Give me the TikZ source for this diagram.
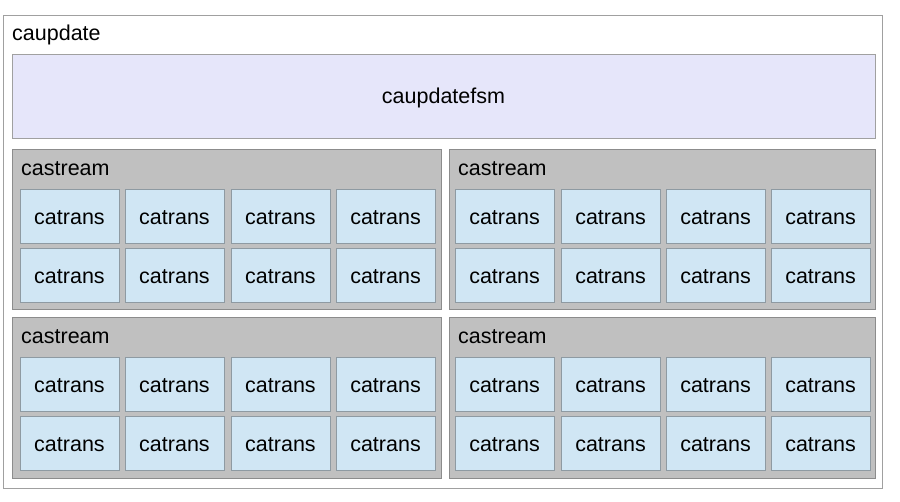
\documentclass[tikz,border=0pt]{standalone}
\usepackage{fontspec}
\setmainfont{Liberation Sans}
\definecolor{framegray}{HTML}{A0A0A0}
\definecolor{fsmfill}{HTML}{E6E6FA}
\definecolor{streamfill}{HTML}{C0C0C0}
\definecolor{streamline}{HTML}{8C8C8C}
\definecolor{transfill}{HTML}{D0E6F4}
\definecolor{transline}{HTML}{8E9AA2}
\begin{document}
\begin{tikzpicture}[x=1pt,y=-1pt,
  box/.style={anchor=north west, inner sep=0pt, outer sep=0pt, line width=1pt},
  topbox/.style={box, draw=framegray, fill=white},
  fsmbox/.style={box, draw=framegray, fill=fsmfill},
  streambox/.style={box, draw=streamline, fill=streamfill},
  transbox/.style={box, draw=transline, fill=transfill, minimum width=99pt, minimum height=54pt},
  lbl/.style={anchor=west, inner sep=0pt, yshift=-1.5pt, font=\fontsize{21.5}{25}\selectfont},
  txt/.style={yshift=-1.5pt, font=\fontsize{21.5}{25}\selectfont}]
\useasboundingbox (0,0) rectangle (900,501);

% outer container
\node[topbox, minimum width=879pt, minimum height=473pt] (top) at (3.5,15.5) {};
\node[lbl] (toplbl) at (12,33) {caupdate};

% state machine block
\node[fsmbox, minimum width=863pt, minimum height=84pt] (fsm) at (12,54) {};
\node[txt] (fsmlbl) at (fsm.center) {caupdatefsm};

% four stream blocks, each holding two rows of four transforms
\foreach \s/\sx/\sy/\sw/\sh/\ta/\tb/\tc/\td in {
    1/12/149/429/160/20/125/231/336,
    2/449/149/426/160/455/561/666/771,
    3/12/317/429/161/20/125/231/336,
    4/449/317/426/161/455/561/666/771}{
  \node[streambox, minimum width=\sw pt, minimum height=\sh pt] (s\s) at (\sx,\sy) {};
  \node[lbl] (s\s lbl) at ([xshift=9pt,yshift=-18pt]s\s.north west) {castream};
  \foreach \r/\dy in {1/40,2/99}{
    \foreach \c/\tx in {1/\ta,2/\tb,3/\tc,4/\td}{
      \node[transbox] (t\s\r\c) at (\tx,\sy+\dy) {};
      \node[txt] at (t\s\r\c.center) {catrans};
    }
  }
}
\end{tikzpicture}
\end{document}
